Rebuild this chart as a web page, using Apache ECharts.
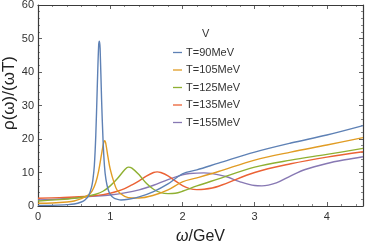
<!DOCTYPE html>
<html>
<head>
<meta charset="utf-8">
<script src="https://cdn.jsdelivr.net/npm/echarts@6/dist/echarts.min.js"></script>
<style>html,body{margin:0;padding:0;background:#fff}#c{width:366px;height:244px}</style>
</head>
<body>
<div id="c"></div>
<script>
var seriesNames = ["T=90MeV", "T=105MeV", "T=125MeV", "T=135MeV", "T=155MeV"];
var legendTitle = "V";
var yAxisTitle = "ρ(ω)/(ωT)";
var xTicks = [0, 1, 2, 3, 4];
var yTicks = [0, 10, 20, 30, 40, 50, 60];

var x90 = [0, 0.2, 0.4, 0.5, 0.6, 0.65, 0.7, 0.74, 0.76, 0.78, 0.8, 0.82, 0.84, 0.85, 0.86, 0.88, 0.9, 0.92, 0.94, 0.97, 1.0, 1.05, 1.1, 1.15, 1.25, 1.4, 1.6, 1.8, 2.0, 2.2, 2.5, 3.0, 3.5, 4.0, 4.5];
var y90 = [0.2, 0.2, 0.4, 0.6, 1.2, 1.8, 3.0, 5.5, 7.8, 12, 21, 35, 48, 49.2, 47, 32, 20, 12, 8, 5, 3.5, 2.4, 2.0, 1.8, 2.0, 2.7, 4.3, 6.6, 9.6, 10.8, 12.8, 16.1, 18.8, 21.2, 24.0];

var x105 = [0, 0.2, 0.4, 0.5, 0.6, 0.7, 0.75, 0.8, 0.84, 0.88, 0.91, 0.925, 0.94, 0.97, 1.0, 1.05, 1.1, 1.2, 1.3, 1.4, 1.6, 1.8, 2.0, 2.2, 2.5, 3.0, 3.5, 4.0, 4.5];
var y105 = [0.8, 0.9, 1.2, 1.5, 2.2, 3.3, 4.5, 7, 10.5, 15.5, 19, 19.5, 18.5, 14.5, 11, 7.2, 4.6, 2.9, 2.4, 2.4, 3.2, 4.8, 7.2, 8.4, 10.3, 13.7, 16.1, 18.2, 20.4];

var x125 = [0, 0.3, 0.5, 0.7, 0.8, 0.9, 1.0, 1.1, 1.2, 1.25, 1.3, 1.4, 1.5, 1.6, 1.7, 1.8, 1.9, 2.0, 2.2, 2.5, 3.0, 3.5, 4.0, 4.5];
var y125 = [1.5, 1.9, 2.3, 3.0, 3.5, 4.4, 6.0, 8.2, 10.8, 11.6, 11.3, 9.3, 6.8, 5.0, 4.0, 3.7, 3.8, 4.4, 6.0, 8.1, 11.6, 13.7, 15.4, 17.2];

var x135 = [0, 0.3, 0.5, 0.7, 0.9, 1.0, 1.1, 1.2, 1.3, 1.4, 1.5, 1.6, 1.65, 1.7, 1.8, 1.9, 2.0, 2.1, 2.2, 2.3, 2.5, 3.0, 3.5, 4.0, 4.5];
var y135 = [2.3, 2.5, 2.7, 2.9, 3.4, 3.8, 4.4, 5.2, 6.3, 7.5, 8.9, 10.0, 10.2, 10.0, 9.0, 7.5, 6.1, 5.2, 4.9, 5.0, 5.9, 10.0, 12.6, 14.6, 16.2];

var x155 = [0, 0.3, 0.5, 0.7, 1.0, 1.2, 1.4, 1.6, 1.8, 2.0, 2.1, 2.3, 2.4, 2.6, 2.8, 3.0, 3.1, 3.3, 3.5, 3.7, 4.0, 4.25, 4.5];
var y155 = [1.8, 2.1, 2.4, 2.8, 3.3, 3.9, 4.8, 6.2, 7.9, 9.3, 9.7, 9.9, 9.7, 8.8, 7.2, 6.1, 6.0, 6.9, 9.0, 10.9, 12.7, 13.8, 14.7];

var xs = [x90, x105, x125, x135, x155];
var ys = [y90, y105, y125, y135, y155];
var colors = ["#5E81B5", "#E19C24", "#8FB032", "#EB6235", "#8778B3"];

function pairs(a, b) { return a.map(function (v, i) { return [v, b[i]]; }); }

var frame = "#3a3a3a";
var chart = echarts.init(document.getElementById('c'), null, {renderer: 'canvas'});
var axisCommon = {
  type: 'value',
  axisLine: {show: true, onZero: false, lineStyle: {color: frame, width: 1.2}},
  axisTick: {show: true, inside: true, length: 4, lineStyle: {color: frame, width: 0.8}},
  minorTick: {show: true, splitNumber: 5, length: 2, lineStyle: {color: frame, width: 0.6}},
  splitLine: {show: false}
};
var option = {
  animation: false,
  color: colors,
  grid: {left: 38, right: 3, top: 5, bottom: 38, containLabel: false, outerBoundsMode: 'none'},
  title: {text: legendTitle, left: 197, top: 23, textStyle: {fontSize: 11, fontWeight: 'normal', color: '#333', fontFamily: 'Liberation Sans'}},
  graphic: [{
    type: 'text', x: 9, y: 93, rotation: Math.PI / 2,
    style: {text: yAxisTitle, fontSize: 17, fill: '#222', fontFamily: 'Liberation Sans', align: 'center', verticalAlign: 'middle'}
  }],
  legend: {
    orient: 'vertical', left: 168, top: 41, itemGap: 4.5,
    icon: 'rect', itemWidth: 9, itemHeight: 1.3,
    textStyle: {fontSize: 11, lineHeight: 13, color: '#333', fontFamily: 'Liberation Sans', padding: [0, 0, 0, -1]},
    data: seriesNames
  },
  xAxis: [
    Object.assign({}, axisCommon, {
      min: 0, max: 4.5, interval: 1, position: 'bottom',
      axisLabel: {show: true, showMaxLabel: false, color: '#333', fontSize: 11, fontFamily: 'Liberation Sans', margin: 5,
        formatter: function (v) { return xTicks.indexOf(v) >= 0 ? String(v) : ''; }},
      name: '{i|ω}/GeV', nameLocation: 'middle', nameGap: 23,
      nameTextStyle: {fontSize: 16, color: '#222', fontFamily: 'Liberation Sans',
        rich: {i: {fontSize: 16, fontStyle: 'italic', color: '#222', fontFamily: 'Liberation Sans'}}}
    }),
    Object.assign({}, axisCommon, {
      min: 0, max: 4.5, interval: 1, position: 'top', axisLabel: {show: false}
    })
  ],
  yAxis: [
    Object.assign({}, axisCommon, {
      min: 0, max: 60, interval: 10, position: 'left',
      axisLabel: {show: true, color: '#333', fontSize: 11, fontFamily: 'Liberation Sans', margin: 4,
        formatter: function (v) { return yTicks.indexOf(v) >= 0 ? String(v) : ''; }}
    }),
    Object.assign({}, axisCommon, {
      min: 0, max: 60, interval: 10, position: 'right', axisLabel: {show: false}
    })
  ],
  series: seriesNames.map(function (n, i) {
    return {
      name: n, type: 'line', data: pairs(xs[i], ys[i]), smooth: 0.35,
      showSymbol: false, symbol: 'none',
      lineStyle: {width: 1.4, color: colors[i]}, itemStyle: {color: colors[i]},
      z: 10 - i
    };
  })
};
chart.setOption(option);
</script>
</body>
</html>
